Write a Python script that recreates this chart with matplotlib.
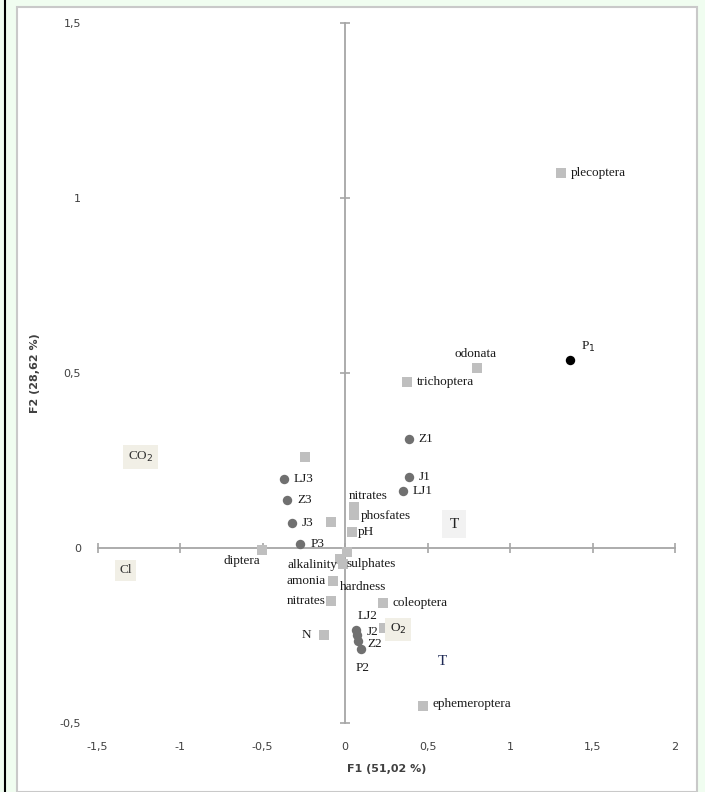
import matplotlib
matplotlib.use("Agg")
import matplotlib.pyplot as plt
from matplotlib.patches import Rectangle
from matplotlib.lines import Line2D

# ---------------- data ----------------
site_names = ["P$_1$", "Z1", "J1", "LJ1", "LJ3", "Z3", "J3", "P3", "LJ2", "J2", "Z2", "P2"]
site_x = [1.364, 0.388, 0.388, 0.352, -0.37, -0.35, -0.32, -0.27, 0.067, 0.073, 0.079, 0.097]
site_y = [0.537, 0.311, 0.203, 0.163, 0.197, 0.137, 0.071, 0.011, -0.234, -0.249, -0.266, -0.289]
site_black = [True] + [False] * 11

var_names = ["plecoptera", "odonata", "trichoptera", "", "", "nitrates", "phosfates", "pH",
             "sulphates", "alkalinity", "hardness", "amonia", "nitrates", "coleoptera",
             "", "N", "ephemeroptera", "diptera"]
var_x = [1.309, 0.80, 0.376, -0.242, -0.085, 0.055, 0.055, 0.042,
         0.01, -0.03, -0.015, -0.073, -0.085, 0.23,
         0.236, -0.127, 0.473, -0.503]
var_y = [1.071, 0.514, 0.474, 0.26, 0.074, 0.117, 0.094, 0.046,
         -0.01, -0.03, -0.045, -0.094, -0.151, -0.157,
         -0.229, -0.249, -0.451, -0.006]

x_ticks = [-1.5, -1, -0.5, 0, 0.5, 1, 1.5, 2]
y_ticks = [-0.5, 0, 0.5, 1, 1.5]
x_tick_labels = ["-1,5", "-1", "-0,5", "0", "0,5", "1", "1,5", "2"]
y_tick_labels = ["-0,5", "0", "0,5", "1", "1,5"]
x_title = "F1 (51,02 %)"
y_title = "F2 (28,62 %)"

# label offsets in points (dx, dy, ha, va) per site / variable
site_lab = {
    "P$_1$": (8, 4, "left", "bottom"), "Z1": (7, 0, "left", "center"),
    "J1": (7, 0, "left", "center"), "LJ1": (7, 0, "left", "center"),
    "LJ3": (7, 0, "left", "center"), "Z3": (7, 0, "left", "center"),
    "J3": (7, 0, "left", "center"), "P3": (7, 0, "left", "center"),
    "LJ2": (1, 6, "left", "bottom"), "J2": (7, 2, "left", "center"),
    "Z2": (7, -2, "left", "center"), "P2": (-4, -9, "left", "top"),
}
var_lab = {
    "plecoptera": (7, 0, "left", "center"), "odonata": (-1, 6, "center", "bottom"),
    "trichoptera": (7, 0, "left", "center"), "nitrates_u": (10, 8, "center", "center"),
    "phosfates": (5, -1, "left", "center"), "pH": (4, 0, "left", "center"),
    "sulphates": (0, -9, "left", "center"), "alkalinity": (-2, -5, "right", "center"),
    "hardness": (-2, -17, "left", "center"), "amonia": (-5, 0, "right", "center"),
    "nitrates_l": (-4, 0, "right", "center"), "coleoptera": (7, 0, "left", "center"),
    "N": (-9, 0, "right", "center"), "ephemeroptera": (7, 1, "left", "center"),
    "diptera": (-1, -8, "right", "center"),
}

# ---------------- figure ----------------
W, H = 705, 792
fig = plt.figure(figsize=(W / 100, H / 100), dpi=100)
fig.patch.set_facecolor("#f0fdf0")

# outer chart frame (drawn behind the axes)
frame = Rectangle((17 / W, 0), (697 - 17) / W, 1 - 7 / H,
                  transform=fig.transFigure, facecolor="white",
                  edgecolor="#c9c9c9", linewidth=1.5, zorder=-10)
fig.add_artist(frame)
fig.add_artist(Line2D([4.5 / W, 4.5 / W], [0, 1], transform=fig.transFigure,
                      color="black", linewidth=1.5, zorder=-5))

left, right, top, bottom = 97.5, 675, 23, 723
ax = fig.add_axes([left / W, 1 - bottom / H, (right - left) / W, (bottom - top) / H])
ax.set_zorder(1)
ax.set_facecolor("none")
ax.set_xlim(x_ticks[0], x_ticks[-1])
ax.set_ylim(y_ticks[0], y_ticks[-1])
for s in ax.spines.values():
    s.set_visible(False)

ax.set_xticks(x_ticks, x_tick_labels)
ax.set_yticks(y_ticks, y_tick_labels)
ax.tick_params(length=0, labelsize=8, colors="#404040", labelcolor="#404040")
ax.tick_params(axis="x", pad=14)
ax.tick_params(axis="y", pad=12)

ax.set_xlabel(x_title, fontsize=8, fontweight="bold", color="#404040", labelpad=8)
ax.set_ylabel(y_title, fontsize=8, fontweight="bold", color="#404040", labelpad=14)

# axes through origin with tick marks
axis_col = "#a6a6a6"
ax.plot([x_ticks[0], x_ticks[-1]], [0, 0], color=axis_col, lw=1.3, zorder=1, clip_on=False)
ax.plot([0, 0], [y_ticks[0], y_ticks[-1]], color=axis_col, lw=1.3, zorder=1, clip_on=False)
ax.plot(x_ticks, [0] * len(x_ticks), linestyle="none", marker="|", markersize=7,
        color=axis_col, mew=1.2, clip_on=False, zorder=1)
yt_nz = [v for v in y_ticks if v != 0]
ax.plot([0] * len(yt_nz), yt_nz, linestyle="none", marker="_", markersize=7,
        color=axis_col, mew=1.2, clip_on=False, zorder=1)

serif = "Liberation Serif"
fs = 9.5

# variables (squares)
ax.scatter(var_x, var_y, marker="s", s=42, color="#bfbfbf", zorder=3,
           linewidths=0, clip_on=False)
nitr_count = 0
for name, x, y in zip(var_names, var_x, var_y):
    if not name:
        continue
    key = name
    if name == "nitrates":
        key = "nitrates_u" if nitr_count == 0 else "nitrates_l"
        nitr_count += 1
    dx, dy, ha, va = var_lab[key]
    ax.annotate(name, (x, y), xytext=(dx, dy), textcoords="offset points",
                ha=ha, va=va, fontsize=fs, family=serif, color="#1a1a1a", zorder=5)

# sites (circles)
for name, x, y, blk in zip(site_names, site_x, site_y, site_black):
    ax.scatter([x], [y], marker="o", s=46, color="black" if blk else "#707070",
               zorder=4, linewidths=0, clip_on=False)
    dx, dy, ha, va = site_lab[name]
    ax.annotate(name, (x, y), xytext=(dx, dy), textcoords="offset points",
                ha=ha, va=va, fontsize=fs, family=serif, color="#1a1a1a", zorder=5)

# boxed annotation labels
box_beige = dict(boxstyle="square,pad=0.35", facecolor="#f1efe6", edgecolor="none")
box_grey = dict(boxstyle="square,pad=0.5", facecolor="#f2f2f2", edgecolor="none")
ax.text(-1.24, 0.26, "CO$_2$", fontsize=fs, family=serif, ha="center", va="center",
        color="#333333", bbox=box_beige)
ax.text(-1.33, -0.064, "Cl", fontsize=fs, family=serif, ha="center", va="center",
        color="#333333", bbox=box_beige)
ax.text(0.66, 0.068, "T", fontsize=11, family=serif, ha="center", va="center",
        color="#222222", bbox=box_grey)
ax.text(0.32, -0.232, "O$_2$", fontsize=fs, family=serif, ha="center", va="center",
        color="#222222", bbox=box_beige)
ax.text(0.59, -0.325, "T", fontsize=11, family=serif, ha="center", va="center",
        color="#1f2a55")

fig.savefig("out.png", dpi=100, facecolor=fig.get_facecolor())
